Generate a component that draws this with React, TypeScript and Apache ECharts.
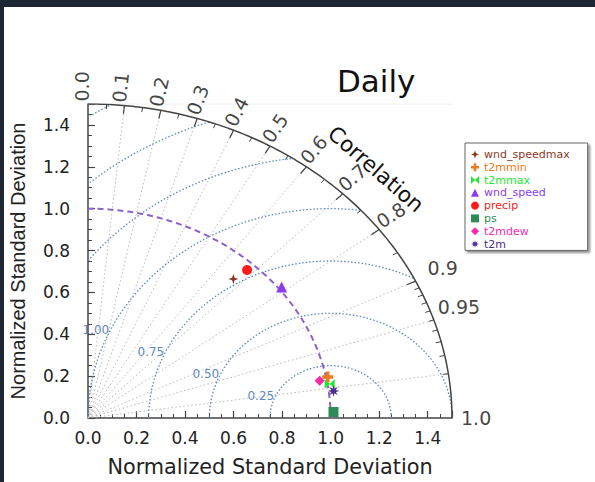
import { useEffect, useRef } from 'react';
import * as echarts from 'echarts';

// ---- data ----
const seriesNames = ['wnd_speedmax', 't2mmin', 't2mmax', 'wnd_speed', 'precip', 'ps', 't2mdew', 't2m'];
const stdDev = [0.894, 1.007, 1.009, 1.014, 0.964, 1.012, 0.971, 1.02];
const correlation = [0.67, 0.981, 0.987, 0.787, 0.68, 0.9996, 0.983, 0.992];
const seriesColors = ['#8b3a1e', '#f07a20', '#22e832', '#8a3df0', '#ff1a1a', '#2e8b57', '#ff2aa8', '#4b2c8c'];
const seriesSymbols = [
  'path://M5,0 L6.3,3.7 L10,5 L6.3,6.3 L5,10 L3.7,6.3 L0,5 L3.7,3.7 Z',
  'path://M3.4,0 H6.6 V3.4 H10 V6.6 H6.6 V10 H3.4 V6.6 H0 V3.4 H3.4 Z',
  'path://M0,0 L5,5 L0,10 Z M10,0 L5,5 L10,10 Z',
  'triangle',
  'circle',
  'rect',
  'diamond',
  'path://M5,0 L5.8,3.1 L8.5,1.5 L6.9,4.2 L10,5 L6.9,5.8 L8.5,8.5 L5.8,6.9 L5,10 L4.2,6.9 L1.5,8.5 L3.1,5.8 L0,5 L3.1,4.2 L1.5,1.5 L4.2,3.1 Z',
];
const symbolSizes = [10, 11, 10, 11, 10, 10, 10, 12];

const axisTickLabels = ['0.0', '0.2', '0.4', '0.6', '0.8', '1.0', '1.2', '1.4'];
const maxStd = 1.5;
const refStd = 1.0;
const corrRotatedLabels = [0.0, 0.1, 0.2, 0.3, 0.4, 0.5, 0.6, 0.7, 0.8];
const corrFlatLabels = [0.9, 0.95, 1.0];
const corrFlatOffsets = [[12, -13], [4, -13], [9, 0]];
const corrRays = [0.1, 0.2, 0.3, 0.4, 0.5, 0.6, 0.7, 0.8, 0.9, 0.95, 0.99];
const corrMajorTicks = [0.1, 0.2, 0.3, 0.4, 0.5, 0.6, 0.7, 0.8, 0.9];
const corrMinorTicks = [0.05, 0.15, 0.25, 0.35, 0.45, 0.55, 0.65, 0.75, 0.85, 0.91, 0.92, 0.93, 0.94, 0.95, 0.96, 0.97, 0.98, 0.99];
const rmsRadii = [0.25, 0.5, 0.75, 1.0, 1.25, 1.5, 1.75];
const rmsLabelTexts = ['0.25', '0.50', '0.75', '1.00'];

// layout
const GRID = { left: 81, top: 104, width: 371, height: 316 };

const toXY = (std: number, corr: number) => {
  const c = Math.min(1, corr);
  return [std * c, std * Math.sqrt(Math.max(0, 1 - c * c))];
};

export default function App() {
  const ref = useRef<HTMLDivElement>(null);
  useEffect(() => {
    if (!ref.current) return;
    const chart = echarts.init(ref.current, null, { renderer: 'svg' });

    const arc = (r: number) => {
      const pts: number[][] = [];
      for (let a = 0; a <= 90.0001; a += 0.5) {
        const t = (a * Math.PI) / 180;
        pts.push([r * Math.cos(t), r * Math.sin(t)]);
      }
      return pts;
    };

    const rmsArc = (R: number) => {
      const pts: number[][] = [];
      for (let a = 0; a <= 180.0001; a += 0.5) {
        const t = (a * Math.PI) / 180;
        const x = refStd + R * Math.cos(t);
        const y = R * Math.sin(t);
        if (x >= -1e-9 && x * x + y * y <= maxStd * maxStd + 1e-9) pts.push([x, y]);
      }
      return pts;
    };

    const pixAngle = (corr: number) => {
      const th = Math.acos(corr);
      return (Math.atan2(GRID.height * Math.sin(th), GRID.width * Math.cos(th)) * 180) / Math.PI;
    };

    const rays = corrRays.map((c) => ({ coords: [[0, 0], toXY(maxStd, c)] }));
    const majTicks = corrMajorTicks.map((c) => ({ coords: [toXY(maxStd, c), toXY(maxStd - 0.04, c)] }));
    const minTicks = corrMinorTicks.map((c) => ({ coords: [toXY(maxStd, c), toXY(maxStd - 0.022, c)] }));

    const rotLabelData = corrRotatedLabels.map((c) => ({
      value: toXY(maxStd + 0.012, c),
      label: { formatter: c.toFixed(1), rotate: pixAngle(c) },
    }));
    const flatLabelData = corrFlatLabels.map((c, i) => ({
      value: toXY(maxStd, c),
      label: { formatter: c === 0.95 ? '0.95' : c.toFixed(1), offset: corrFlatOffsets[i] },
    }));

    const rmsLabelData = rmsLabelTexts.map((t, i) => {
      const R = rmsRadii[i];
      const a = (155 * Math.PI) / 180;
      return { value: [refStd + R * Math.cos(a), R * Math.sin(a)], label: { formatter: t } };
    });

    const helper = { silent: true, animation: false };

    const series: any[] = [
      {
        ...helper,
        type: 'lines',
        coordinateSystem: 'cartesian2d',
        data: rays,
        lineStyle: { color: '#b8b8b8', width: 1, type: [1.5, 2.5], opacity: 1 },
        z: 1,
      },
      ...rmsRadii.map((R) => ({
        ...helper,
        type: 'line',
        data: rmsArc(R),
        showSymbol: false,
        lineStyle: { color: '#5f86c4', width: 1.3, type: [1.5, 2] },
        z: 2,
      })),
      {
        ...helper,
        type: 'line',
        data: [[0, maxStd], [maxStd, maxStd]],
        showSymbol: false,
        lineStyle: { color: '#ececec', width: 1 },
        z: 1,
      },
      {
        ...helper,
        type: 'line',
        data: arc(refStd),
        showSymbol: false,
        lineStyle: { color: '#8c62cc', width: 2, type: [6, 4] },
        z: 3,
      },
      {
        ...helper,
        type: 'line',
        data: arc(maxStd),
        showSymbol: false,
        lineStyle: { color: '#444', width: 1.5 },
        z: 4,
      },
      {
        ...helper,
        type: 'lines',
        coordinateSystem: 'cartesian2d',
        data: majTicks,
        lineStyle: { color: '#444', width: 1.2, opacity: 1 },
        z: 4,
      },
      {
        ...helper,
        type: 'lines',
        coordinateSystem: 'cartesian2d',
        data: minTicks,
        lineStyle: { color: '#444', width: 1, opacity: 1 },
        z: 4,
      },
      {
        ...helper,
        type: 'scatter',
        clip: false,
        data: rotLabelData,
        symbolSize: 1,
        itemStyle: { color: 'rgba(0,0,0,0)' },
        label: {
          show: true,
          position: 'inside',
          align: 'left',
          verticalAlign: 'bottom',
          lineHeight: 12,
          fontSize: 19,
          color: '#111',
          fontFamily: 'DejaVu Sans',
        },
        z: 5,
      },
      {
        ...helper,
        type: 'scatter',
        clip: false,
        data: flatLabelData,
        symbolSize: 1,
        itemStyle: { color: 'rgba(0,0,0,0)' },
        label: {
          show: true,
          position: 'inside',
          align: 'left',
          verticalAlign: 'middle',
          fontSize: 19,
          color: '#111',
          fontFamily: 'DejaVu Sans',
        },
        z: 5,
      },
      {
        ...helper,
        type: 'scatter',
        data: rmsLabelData,
        symbolSize: 1,
        itemStyle: { color: 'rgba(0,0,0,0)' },
        label: {
          show: true,
          position: 'left',
          distance: 1,
          fontSize: 12,
          color: '#3466b0',
          fontFamily: 'DejaVu Sans',
        },
        z: 5,
      },
      ...seriesNames.map((name, i) => ({
        name,
        type: 'scatter',
        data: [toXY(stdDev[i], correlation[i])],
        symbol: seriesSymbols[i],
        symbolSize: symbolSizes[i],
        itemStyle: { color: seriesColors[i], opacity: 1 },
        z: 10,
      })),
    ];

    const axisCommon = {
      type: 'value',
      min: 0,
      max: maxStd,
      interval: 0.2,
      axisLine: { show: true, lineStyle: { color: '#444', width: 1.5 } },
      axisTick: { show: true, inside: true, length: 7, lineStyle: { color: '#444', width: 1.2 } },
      minorTick: { show: true, splitNumber: 4, length: 4, lineStyle: { color: '#444', width: 1 } },
      splitLine: { show: false },
      minorSplitLine: { show: false },
      name: 'Normalized Standard Deviation',
      nameLocation: 'middle',
    };

    chart.setOption({
      animation: false,
      backgroundColor: '#fff',
      textStyle: { fontFamily: 'DejaVu Sans' },
      title: {
        text: 'Daily',
        left: 332,
        top: 60,
        textStyle: { fontSize: 31, fontWeight: 'normal', color: '#111', fontFamily: 'DejaVu Sans' },
      },
      grid: GRID,
      xAxis: {
        ...axisCommon,
        axisLabel: {
          formatter: (v: number) => axisTickLabels[Math.round(v / 0.2)] ?? '',
          showMaxLabel: false,
          fontSize: 17,
          color: '#222',
          margin: 11,
        },
        nameGap: 38,
        nameTextStyle: { fontSize: 20.8, color: '#222', fontFamily: 'DejaVu Sans' },
      },
      yAxis: {
        ...axisCommon,
        axisLabel: {
          formatter: (v: number) => axisTickLabels[Math.round(v / 0.2)] ?? '',
          showMaxLabel: false,
          fontSize: 17,
          color: '#222',
          margin: 18,
        },
        nameGap: 60,
        nameTextStyle: { fontSize: 20, color: '#222', fontFamily: 'Liberation Sans' },
      },
      legend: {
        orient: 'vertical',
        left: 465,
        top: 143,
        padding: [5, 18, 0, 6],
        itemGap: 0,
        itemWidth: 8,
        itemHeight: 8,
        borderColor: '#666',
        borderWidth: 1,
        backgroundColor: '#fff',
        shadowColor: 'rgba(0,0,0,0.45)',
        shadowBlur: 2,
        shadowOffsetX: 2,
        shadowOffsetY: 2,
        selectedMode: false,
        textStyle: { fontSize: 11, lineHeight: 12.8, fontFamily: 'DejaVu Sans' },
        data: seriesNames.map((n, i) => ({ name: n, textStyle: { color: seriesColors[i] } })),
      },
      graphic: [
        {
          type: 'text',
          x: 376,
          y: 169,
          rotation: (-41 * Math.PI) / 180,
          style: {
            text: 'Correlation',
            fontSize: 21.5,
            fontFamily: 'DejaVu Sans',
            fill: '#111',
            align: 'center',
            verticalAlign: 'middle',
          },
          z: 20,
        },
        { type: 'rect', shape: { x: 0, y: 0, width: 595, height: 7 }, style: { fill: '#1f2734' }, z: 100 },
        { type: 'rect', shape: { x: 0, y: 0, width: 4, height: 482 }, style: { fill: '#1f2734' }, z: 100 },
      ],
      series,
    });
    return () => chart.dispose();
  }, []);
  return (
    <div
      ref={ref}
      style={{ position: 'fixed', left: 0, top: 0, width: 595, height: 482, background: '#fff' }}
    />
  );
}
